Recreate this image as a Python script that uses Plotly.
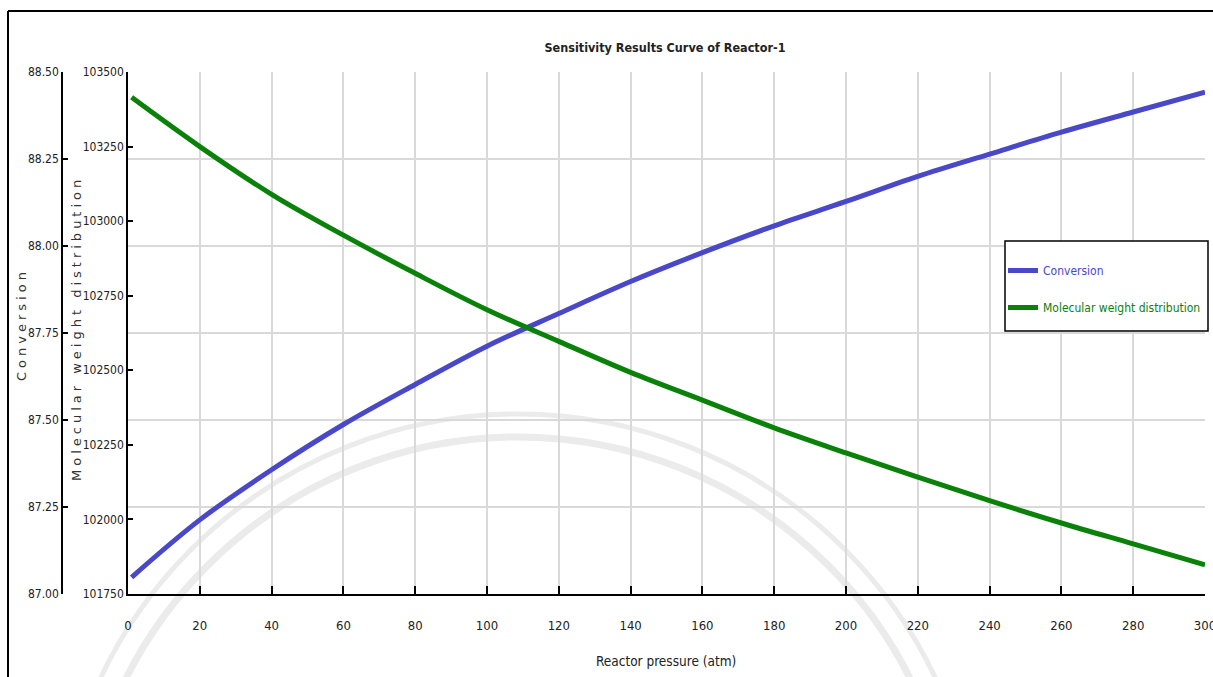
import plotly.graph_objects as go

# ---- data ---------------------------------------------------------------
pressure = [1, 20, 40, 60, 80, 100, 120, 140, 160, 180, 200, 220, 240, 260, 280, 300]
conversion = [87.048, 87.213, 87.357, 87.487, 87.602, 87.712, 87.806, 87.898,
              87.981, 88.058, 88.128, 88.200, 88.264, 88.327, 88.385, 88.442]
mwd = [103415, 103250, 103090, 102953, 102825, 102703, 102597, 102493,
       102400, 102307, 102223, 102142, 102063, 101988, 101918, 101848]

x_ticks = list(range(0, 301, 20))
conv_range = [87.0, 88.5]
mwd_range = [101750, 103500]

# ---- geometry helpers (canvas pixels -> paper coordinates) --------------
W, H = 1213, 677
PLOT_L, PLOT_R, PLOT_T, PLOT_B = 128, 1205, 72, 594


def px(x):
    return x / W


def py(y):
    return (PLOT_B - y) / (PLOT_B - PLOT_T)


BLUE = "#4848c8"
GREEN = "#0a820a"
NARROW = "DejaVu Sans Condensed, Liberation Sans Narrow, Arial Narrow, sans-serif"
WIDE = "DejaVu Sans, Verdana, sans-serif"
TXT = "#222222"
GRID = "#d9d9d9"

fig = go.Figure()
fig.add_trace(go.Scatter(
    x=pressure, y=conversion, mode="lines", yaxis="y", legendgroup="conv",
    name=f"<span style='color:{BLUE}'>Conversion</span>",
    line=dict(color=BLUE, width=5, shape="spline"),
))
fig.add_trace(go.Scatter(
    x=pressure, y=mwd, mode="lines", yaxis="y2", legendgroup="mwd",
    name=f"<span style='color:{GREEN}'>Molecular weight distribution</span>",
    line=dict(color=GREEN, width=5, shape="spline"),
))

ytickfont = dict(family=NARROW, size=12, color=TXT)
xtickfont = dict(family=NARROW, size=13, color=TXT)

fig.update_layout(
    width=W, height=H,
    margin=dict(l=0, r=0, t=PLOT_T, b=H - PLOT_B, autoexpand=False),
    paper_bgcolor="white", plot_bgcolor="white",
    title=dict(text="<b>Sensitivity Results Curve of Reactor-1</b>",
               x=px(665), xanchor="center", y=1 - 48 / H, yanchor="middle",
               font=dict(family=NARROW, size=12.5, color=TXT)),
    xaxis=dict(domain=[px(PLOT_L), px(PLOT_R)], range=[0, 300], tickvals=x_ticks,
               ticks="inside", ticklen=8, tickcolor="black", tickwidth=1.5,
               showline=True, linecolor="black", linewidth=2,
               showgrid=True, gridcolor=GRID, gridwidth=1.5, zeroline=False,
               tickfont=xtickfont, ticklabelstandoff=18, ticklabeloverflow="allow"),
    yaxis=dict(range=conv_range, tick0=87.0, dtick=0.25, tickformat=".2f",
               anchor="free", position=px(62), side="left",
               ticks="inside", ticklen=5, tickcolor="black", tickwidth=1.5,
               showline=True, linecolor="black", linewidth=1.5,
               showgrid=True, gridcolor=GRID, gridwidth=1.5, zeroline=False,
               tickfont=ytickfont),
    yaxis2=dict(range=mwd_range, tick0=101750, dtick=250, tickformat="d",
                overlaying="y", anchor="x", side="left",
                ticks="inside", ticklen=5, tickcolor="black", tickwidth=1.5,
                showline=True, linecolor="black", linewidth=1.5,
                showgrid=False, zeroline=False, tickfont=ytickfont),
    legend=dict(x=px(1003), xanchor="left", y=py(256), yanchor="top",
                bgcolor="rgba(0,0,0,0)", borderwidth=0,
                font=dict(family=NARROW, size=12), tracegroupgap=18,
                itemwidth=30),
    showlegend=True,
)

# legend frame
fig.add_shape(type="rect", xref="paper", yref="paper", layer="above",
              x0=px(1005), x1=px(1208), y0=py(331), y1=py(241),
              line=dict(color="black", width=1.5), fillcolor="white")

# axis titles
fig.add_annotation(text="Reactor pressure (atm)", xref="paper", yref="paper",
                   x=px(666), y=py(661), xanchor="center", yanchor="middle",
                   showarrow=False, font=dict(family=NARROW, size=13.5, color=TXT))
fig.add_annotation(text="Conversion", xref="paper", yref="paper",
                   x=px(21), y=py(325), xanchor="center", yanchor="middle",
                   showarrow=False, textangle=-90,
                   font=dict(family=WIDE, size=13, color="#333333"))
fig.add_annotation(text="Molecular weight distribution", xref="paper", yref="paper",
                   x=px(76), y=py(329), xanchor="center", yanchor="middle",
                   showarrow=False, textangle=-90,
                   font=dict(family=WIDE, size=13, color="#333333"))

# faint seal rings in the background
for r, w in [(462, 5), (439, 7)]:
    cx, cy = 518, 876
    fig.add_shape(type="circle", xref="paper", yref="paper", layer="below",
                  x0=px(cx - r), x1=px(cx + r), y0=py(cy + r), y1=py(cy - r),
                  line=dict(color="#ebebeb", width=w), fillcolor="rgba(0,0,0,0)")

# outer frame (top and left edges)
fig.add_shape(type="line", xref="paper", yref="paper", x0=px(8), x1=px(W + 5),
              y0=py(11), y1=py(11), line=dict(color="black", width=2))
fig.add_shape(type="line", xref="paper", yref="paper", x0=px(8), x1=px(8),
              y0=py(11), y1=py(H + 5), line=dict(color="black", width=2))

spacing_js = (
    "document.querySelectorAll('.annotation-text').forEach(function(t){"
    "var s=t.textContent;"
    "if(s==='Conversion'||s==='Molecular weight distribution'){t.style.letterSpacing='4px';}"
    "});"
)

fig.write_html("out.html", post_script=spacing_js)
